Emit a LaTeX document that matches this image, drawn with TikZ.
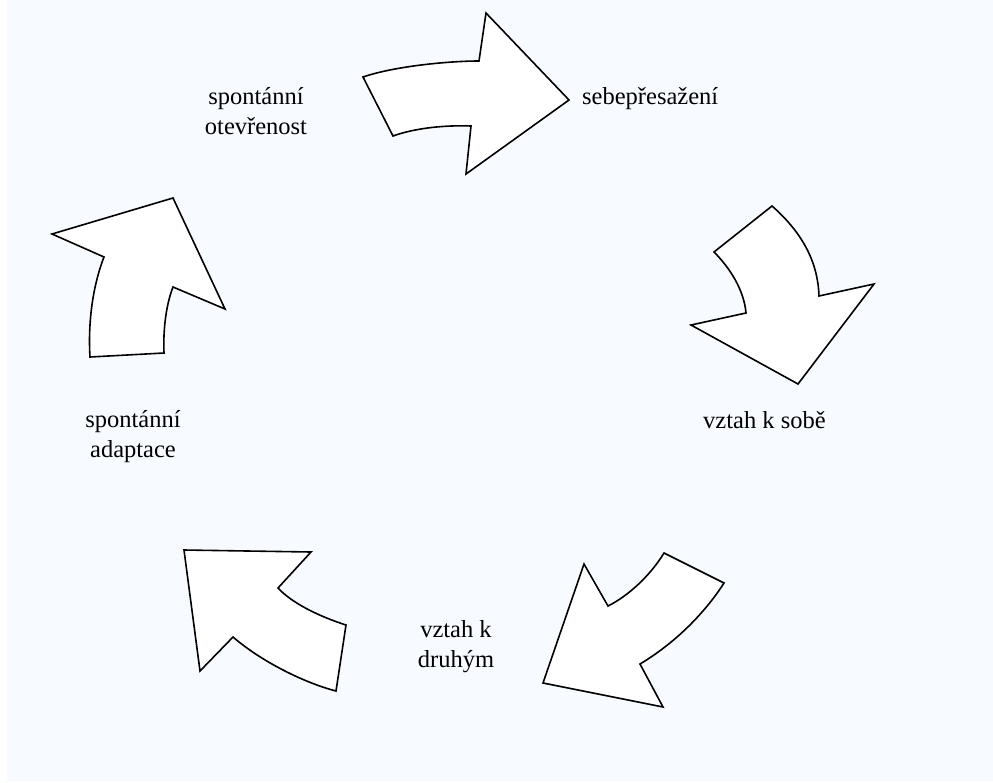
\documentclass[tikz,border=0pt]{standalone}
\usepackage{fontspec}
\setmainfont{Liberation Serif}

\definecolor{paleblue}{RGB}{247,251,255}

\tikzset{
  bend arrow/.style={draw=black, fill=white, line width=1.6pt, line join=miter},
  cycle label/.style={font=\fontsize{24.5}{30}\selectfont, inner sep=0pt, align=center}
}

\begin{document}
\begin{tikzpicture}[x=1pt, y=-1pt]
  % Background
  \useasboundingbox (0,0) rectangle (993,782);
  \fill[paleblue] (7,0) rectangle (993,781);

  % Top arrow, pointing right
  \draw[bend arrow] (363,77) .. controls (395,66) and (450,61) .. (479,61)
    -- (486,13) -- (569,100) -- (466,174) -- (471,126)
    .. controls (445,125) and (415,128) .. (393,136) -- cycle;

  % Right arrow, pointing down
  \draw[bend arrow] (772,206) -- (714,252)
    .. controls (730,268) and (744,290) .. (746,313)
    -- (691,325) -- (798,384) -- (874,284) -- (819,296)
    .. controls (818,265) and (805,235) .. (772,206) -- cycle;

  % Lower right arrow, pointing down-left
  \draw[bend arrow] (664,553) -- (724,583)
    .. controls (708,608) and (680,640) .. (640,664)
    -- (663,707) -- (543,683) -- (584,564) -- (608,606)
    .. controls (628,596) and (650,576) .. (664,553) -- cycle;

  % Lower left arrow, pointing up-left
  \draw[bend arrow] (184,550) -- (311,552) -- (278,588)
    .. controls (292,603) and (318,616) .. (346,625)
    -- (336,691)
    .. controls (305,683) and (262,662) .. (233,637)
    -- (200,671) -- cycle;

  % Left arrow, pointing up
  \draw[bend arrow] (173,198) -- (225,309) -- (173,287)
    .. controls (166,305) and (163,330) .. (164,353)
    -- (90,357)
    .. controls (88,325) and (92,288) .. (104,257)
    -- (52,234) -- cycle;

  % Labels
  \node[cycle label, anchor=base west] (transcend) at (582,104) {sebepřesažení};
  \node[cycle label, anchor=base west] (self) at (703,428) {vztah k sobě};
  \node[cycle label] (others) at (456,647) {vztah k\\druhým};
  \node[cycle label] (adapt) at (133,437) {spontánní\\adaptace};
  \node[cycle label] (open) at (256,111) {spontánní\\otevřenost};
\end{tikzpicture}
\end{document}
